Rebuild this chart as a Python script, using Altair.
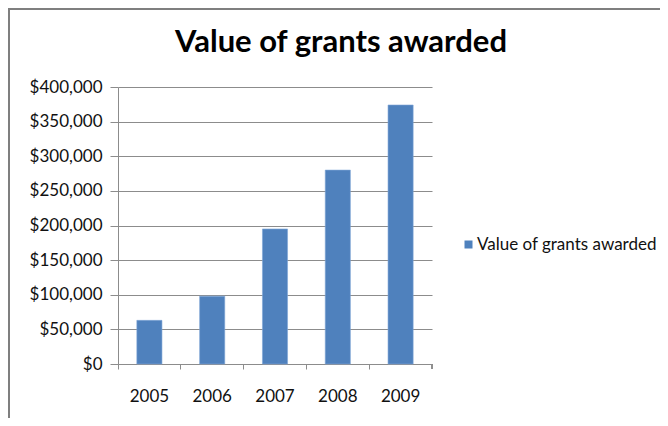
import altair as alt
import pandas as pd

years = ["2005", "2006", "2007", "2008", "2009"]
values = [63000, 98000, 195000, 280000, 374000]
series_name = "Value of grants awarded"
chart_title = "Value of grants awarded"
y_ticks = [0, 50000, 100000, 150000, 200000, 250000, 300000, 350000, 400000]

df = pd.DataFrame({"year": years, "value": values, "series": [series_name] * len(years)})
title_df = pd.DataFrame({"t": [chart_title]})

FONT = "Lato"
GRID = "#8c8c8c"

x_enc = alt.X(
    "year:N",
    sort=years,
    title=None,
    scale=alt.Scale(paddingInner=0, paddingOuter=0),
    axis=alt.Axis(
        labelAngle=0,
        labelFontSize=17,
        labelColor="#111111",
        labelFont=FONT,
        labelPadding=19,
        bandPosition=0,
        ticks=True,
        tickSize=5,
        tickColor=GRID,
        domain=True,
        domainColor=GRID,
        grid=False,
    ),
)

bars = alt.Chart(df).mark_bar(
    width=alt.RelativeBandSize(0.4), color="#4F81BD", stroke="#7fa6d6", strokeWidth=0.6
).encode(
    x=x_enc,
    y=alt.Y(
        "value:Q",
        title=None,
        scale=alt.Scale(domain=[0, 400000], nice=False),
        axis=alt.Axis(
            values=y_ticks,
            format="$,.0f",
            labelFontSize=17,
            labelColor="#111111",
            labelFont=FONT,
            labelPadding=8,
            tickSize=8,
            tickColor=GRID,
            domainColor=GRID,
            gridColor=GRID,
            gridWidth=1,
        ),
    ),
    fill=alt.Fill(
        "series:N",
        scale=alt.Scale(domain=[series_name], range=["#4F81BD"]),
        legend=alt.Legend(
            title=None,
            orient="none",
            legendX=342,
            legendY=149,
            symbolType="square",
            symbolSize=64,
            symbolStrokeWidth=0,
            labelFontSize=17,
            labelFont=FONT,
            labelColor="#111111",
            labelOffset=0,
            labelLimit=400,
        ),
    ),
)

end_tick = alt.Chart(df).mark_rule(color=GRID, strokeWidth=1).encode(
    x=alt.value(314), y=alt.value(277), y2=alt.value(282)
)

border_left = alt.Chart(df).mark_rule(color="#7f7f7f", strokeWidth=2).encode(
    x=alt.value(-109), y=alt.value(-79), y2=alt.value(335)
)
border_top = alt.Chart(df).mark_rule(color="#7f7f7f", strokeWidth=2).encode(
    x=alt.value(-110), x2=alt.value(550), y=alt.value(-78)
)

title_text = alt.Chart(title_df).mark_text(
    font=FONT, fontSize=31, fontWeight="bold", color="#000000",
    align="center", baseline="alphabetic",
).encode(text="t:N", x=alt.value(223), y=alt.value(-35))

chart = alt.layer(bars, end_tick, border_left, border_top, title_text).properties(
    width=314,
    height=277,
    padding={"left": 110, "top": 79, "right": 228, "bottom": 54},
    autosize=alt.AutoSizeParams(type="none"),
).configure_view(stroke=None)

chart.save("out.html", embed_options={"renderer": "svg", "actions": False})
